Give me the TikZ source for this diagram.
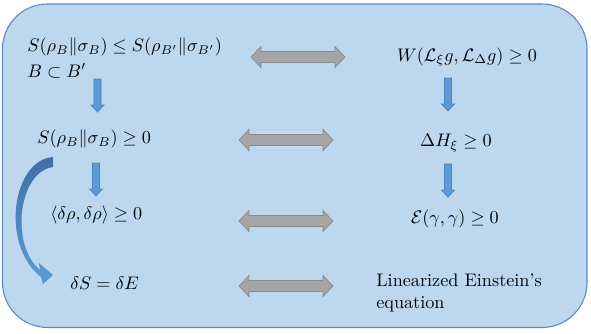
\documentclass[tikz,border=0pt]{standalone}
\usepackage{amsmath,amssymb}
\usetikzlibrary{calc}
\definecolor{boxfill}{HTML}{BDD7EE}
\definecolor{boxline}{HTML}{5B8BC2}
\definecolor{bluefill}{HTML}{5B9BD5}
\definecolor{blueline}{HTML}{4A85BF}
\definecolor{bluedark}{HTML}{3F70A8}
\definecolor{grayfill}{HTML}{A5A5A5}
\definecolor{grayline}{HTML}{8A8A8A}
% #1 style, #2 start, #3 end, #4 shaft half width, #5 head half width, #6 head length
\newcommand{\fatarrow}[6]{%
  \coordinate (fa-h) at ($(#3)!#6!(#2)$);
  \draw[#1] ($(#2)!#4!90:(#3)$) -- ($(fa-h)!#4!90:(#3)$) -- ($(fa-h)!#5!90:(#3)$) -- (#3)
    -- ($(fa-h)!#5!-90:(#3)$) -- ($(fa-h)!#4!-90:(#3)$) -- ($(#2)!#4!-90:(#3)$) -- cycle;}
\newcommand{\dblarrow}[6]{%
  \coordinate (da-h1) at ($(#2)!#6!(#3)$);
  \coordinate (da-h2) at ($(#3)!#6!(#2)$);
  \draw[#1] (#2) -- ($(da-h1)!#5!90:(#3)$) -- ($(da-h1)!#4!90:(#3)$) -- ($(da-h2)!#4!90:(#3)$)
    -- ($(da-h2)!#5!90:(#3)$) -- (#3) -- ($(da-h2)!#5!-90:(#3)$) -- ($(da-h2)!#4!-90:(#3)$)
    -- ($(da-h1)!#4!-90:(#3)$) -- ($(da-h1)!#5!-90:(#3)$) -- cycle;}
\tikzset{
  txt/.style={inner sep=0pt, font=\normalsize},
  bluearrow/.style={fill=bluefill, draw=blueline, line width=0.4pt, line join=miter},
  grayarrow/.style={fill=grayfill, draw=grayline, line width=0.4pt, line join=miter},
  panel/.style={fill=boxfill, draw=boxline, line width=0.6pt, rounded corners=24.75pt}
}
\begin{document}
\begin{tikzpicture}[x=0.55pt, y=-0.55pt]
\useasboundingbox (0,0) rectangle (591,333);
\draw[panel] (2.5,4) rectangle (587,327.5);

% left column
\node[txt, anchor=west, align=left] (a1) at (27,58)
  {$S(\rho_B\|\sigma_B)\leq S(\rho_{B'}\|\sigma_{B'})$\\[2pt] $B\subset B'$};
\node[txt, anchor=west] (a2) at (37,139) {$S(\rho_B\|\sigma_B)\geq 0$};
\node[txt, anchor=west] (a3) at (50,215) {$\langle\delta\rho,\delta\rho\rangle\geq 0$};
\node[txt, anchor=west] (a4) at (70,283) {$\delta S=\delta E$};

% right column
\node[txt] (b1) at (467,57) {$W(\mathcal{L}_\xi g,\mathcal{L}_\Delta g)\geq 0$};
\node[txt] (b2) at (456,143) {$\Delta H_\xi\geq 0$};
\node[txt] (b3) at (455,219) {$\mathcal{E}(\gamma,\gamma)\geq 0$};
\node[txt, anchor=west, align=left] (b4) at (376,293) {Linearized Einstein's\\equation};

% endpoints of the block arrows
\coordinate (la1s) at (97.5,79);  \coordinate (la1e) at (97.5,112);
\coordinate (la2s) at (96,163);   \coordinate (la2e) at (96,196);
\coordinate (ra1s) at (448,78);   \coordinate (ra1e) at (448,111);
\coordinate (ra2s) at (448,164);  \coordinate (ra2e) at (448,197);
\coordinate (g1l) at (251,57);  \coordinate (g1r) at (345,57);
\coordinate (g2l) at (239,140); \coordinate (g2r) at (333,140);
\coordinate (g3l) at (239,221); \coordinate (g3r) at (333,221);
\coordinate (g4l) at (239,286); \coordinate (g4r) at (333,286);

\fatarrow{bluearrow}{la1s}{la1e}{1.93pt}{3.58pt}{3.85pt}
\fatarrow{bluearrow}{la2s}{la2e}{1.93pt}{3.58pt}{3.85pt}
\fatarrow{bluearrow}{ra1s}{ra1e}{1.93pt}{3.58pt}{3.85pt}
\fatarrow{bluearrow}{ra2s}{ra2e}{1.93pt}{3.58pt}{3.85pt}

\dblarrow{grayarrow}{g1l}{g1r}{3.03pt}{5.78pt}{5.5pt}
\dblarrow{grayarrow}{g2l}{g2r}{3.03pt}{5.78pt}{5.5pt}
\dblarrow{grayarrow}{g3l}{g3r}{3.03pt}{5.78pt}{5.5pt}
\dblarrow{grayarrow}{g4l}{g4r}{3.03pt}{5.78pt}{5.5pt}

% curved arrow
\shade[top color=bluedark, bottom color=bluefill]
  (53,157) .. controls (12,160) and (0,245) .. (41,277)
  -- (43,284) -- (53,275) -- (39,263) -- (40,270)
  .. controls (10,245) and (18,172) .. (53,167) -- cycle;
\end{tikzpicture}
\end{document}
